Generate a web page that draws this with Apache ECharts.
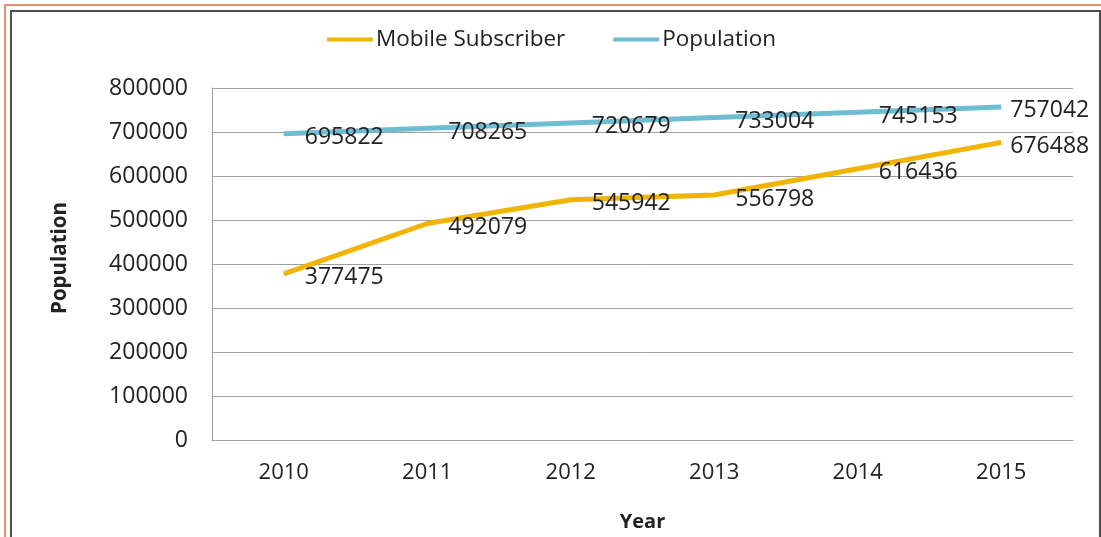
<!DOCTYPE html>
<html>
<head>
<meta charset="utf-8">
<style>
  html, body { margin: 0; padding: 0; background: #ffffff; }
  #chart { width: 1101px; height: 537px; }
</style>
<script src="https://cdn.jsdelivr.net/npm/echarts@6/dist/echarts.min.js"></script>
</head>
<body>
<div id="chart"></div>
<script>
// Yearly figures
const years = ['2010', '2011', '2012', '2013', '2014', '2015'];
const mobileSubscribers = [377475, 492079, 545942, 556798, 616436, 676488];
const population = [695822, 708265, 720679, 733004, 745153, 757042];
const yTicks = { min: 0, max: 800000, step: 100000 };

const FONT = '"Open Sans", "DejaVu Sans", sans-serif';
const TEXT = '#222222';

// the last point's label sits closer to the line end
function withLabels(values) {
  return values.map(function (v, i) {
    const item = { value: v };
    if (i === values.length - 1) item.label = { distance: 9 };
    return item;
  });
}

const chart = echarts.init(document.getElementById('chart'), null, { renderer: 'canvas' });

chart.setOption({
  backgroundColor: '#ffffff',
  animation: false,
  graphic: [
    // outer frame lines
    { type: 'rect', silent: true, z: -1,
      shape: { x: 5, y: 5, width: 1200, height: 700 },
      style: { fill: 'none', stroke: '#E0936C', lineWidth: 2 } },
    { type: 'rect', silent: true, z: -1,
      shape: { x: 11, y: 11, width: 1089, height: 700 },
      style: { fill: 'none', stroke: '#4d4d4d', lineWidth: 2 } }
  ],
  legend: {
    left: 327,
    top: 28,
    padding: 0,
    itemWidth: 46,
    itemHeight: 4,
    itemGap: 48,
    icon: 'rect',
    textStyle: { fontFamily: FONT, fontSize: 22.5, color: TEXT, padding: [0, 0, 0, -2] },
    data: ['Mobile Subscriber', 'Population']
  },
  grid: { left: 212, top: 88, right: 28, bottom: 97, containLabel: false, outerBoundsMode: 'none' },
  xAxis: {
    type: 'category',
    data: years,
    boundaryGap: true,
    name: 'Year',
    nameLocation: 'middle',
    nameGap: 72,
    nameTextStyle: { fontFamily: FONT, fontSize: 20, fontWeight: 'bold', color: TEXT },
    axisLine: { lineStyle: { color: '#a0a0a0', width: 1 } },
    axisTick: { show: false },
    axisLabel: { fontFamily: FONT, fontSize: 22, color: TEXT, margin: 22 }
  },
  yAxis: {
    type: 'value',
    min: yTicks.min,
    max: yTicks.max,
    interval: yTicks.step,
    name: 'Population',
    nameLocation: 'middle',
    nameGap: 141,
    nameRotate: 90,
    nameTextStyle: {
      fontFamily: FONT, fontSize: 20.5, fontWeight: 'bold', color: TEXT,
      padding: [0, 0, 0, 12]
    },
    axisLine: { show: true, lineStyle: { color: '#a0a0a0', width: 1 } },
    axisTick: { show: false },
    splitLine: { lineStyle: { color: '#a0a0a0', width: 1 } },
    axisLabel: {
      fontFamily: FONT, fontSize: 23, color: TEXT, margin: 24,
      formatter: function (v) { return String(v); }
    }
  },
  series: [
    {
      name: 'Mobile Subscriber',
      type: 'line',
      data: withLabels(mobileSubscribers),
      color: '#F1B400',
      lineStyle: { width: 5, color: '#F1B400' },
      symbol: 'circle',
      symbolSize: 0.1,
      showSymbol: true,
      label: {
        show: true, position: 'right', distance: 21, offset: [0, 4],
        fontFamily: FONT, fontSize: 23, color: TEXT
      }
    },
    {
      name: 'Population',
      type: 'line',
      data: withLabels(population),
      color: '#6FBDD2',
      lineStyle: { width: 5, color: '#6FBDD2' },
      symbol: 'circle',
      symbolSize: 0.1,
      showSymbol: true,
      label: {
        show: true, position: 'right', distance: 21, offset: [0, 4],
        fontFamily: FONT, fontSize: 23, color: TEXT
      }
    }
  ]
});
</script>
</body>
</html>
